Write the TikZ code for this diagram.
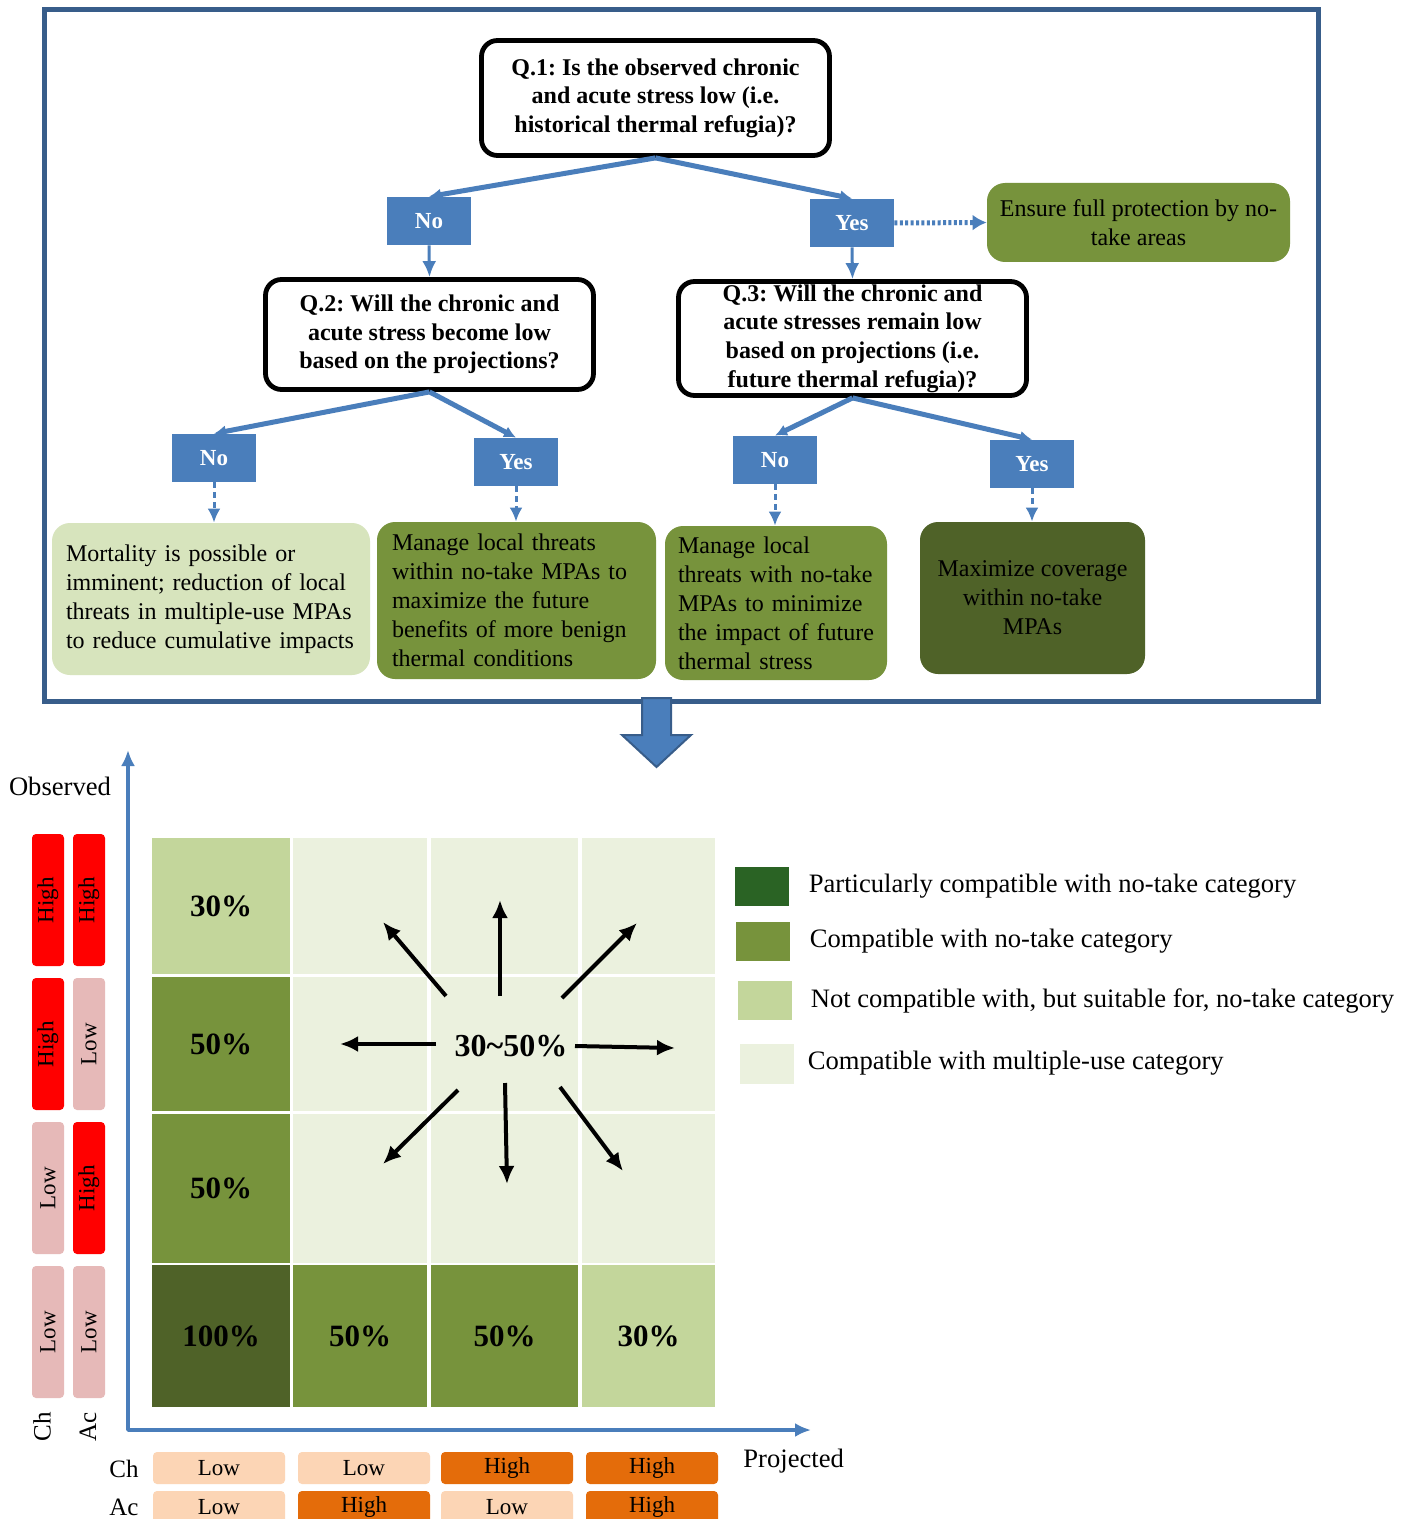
\documentclass[tikz,border=0pt]{standalone}
\usepackage{fontspec}
\setmainfont{Liberation Serif}
\frenchspacing
\usetikzlibrary{arrows.meta,positioning}
\definecolor{ansblue}{HTML}{4A7EBB}
\definecolor{framecol}{HTML}{385D8A}
\definecolor{midgreen}{HTML}{77933C}
\definecolor{darkolive}{HTML}{4F6228}
\definecolor{palegreen}{HTML}{D7E4BD}
\definecolor{lightgreen}{HTML}{C3D69B}
\definecolor{mistgreen}{HTML}{EBF1DE}
\definecolor{deepgreen}{HTML}{2A6324}
\definecolor{lowpink}{HTML}{E6B9B8}
\definecolor{lowpeach}{HTML}{FCD5B5}
\definecolor{highorange}{HTML}{E46C0A}
\begin{document}
\begin{tikzpicture}[x=0.5pt,y=-0.5pt,>={Latex[length=6pt,width=6pt]},line join=bevel,
  question/.style={draw=black,line width=2.4pt,rounded corners=8pt,fill=white,align=center,inner sep=0pt,font=\bfseries\fontsize{12}{14.3}\selectfont},
  answer/.style={fill=ansblue,text=white,inner sep=0pt,minimum width=42pt,minimum height=24pt,font=\bfseries\fontsize{11.5}{13}\selectfont},
  action/.style={rounded corners=9pt,inner sep=0pt,font=\fontsize{12}{14.5}\selectfont},
  branch/.style={draw=ansblue,line width=2.5pt,->},
  drop/.style={draw=ansblue,line width=1.5pt,->,>={Latex[length=8pt,width=7pt]}},
  dotline/.style={draw=ansblue,line width=2.5pt,dash pattern=on 1.5pt off 1.2pt,->,>={Latex[length=7pt,width=8pt]}},
  dashline/.style={draw=ansblue,line width=1.5pt,dash pattern=on 3pt off 2pt,->,>={Latex[length=7pt,width=6.5pt]}},
  cell/.style={inner sep=0pt,font=\bfseries\fontsize{15.5}{18}\selectfont},
  level/.style={rounded corners=2pt,inner sep=0pt,minimum width=66pt,minimum height=16pt,font=\fontsize{11.5}{13}\selectfont},
  key/.style={inner sep=0pt,minimum width=27pt,minimum height=19.5pt},
  keytext/.style={inner sep=0pt,font=\fontsize{13.3}{15}\selectfont},
  axislabel/.style={inner sep=0pt,font=\fontsize{13.3}{15}\selectfont},
  spoke/.style={draw=black,line width=2pt,->,>={Latex[length=9pt,width=8pt]}},
  axis/.style={draw=ansblue,line width=2pt,<->,>={Latex[length=8pt,width=7pt]}},
]
\useasboundingbox (0,0) rectangle (1409,1519);
\fill [white] (0,0) rectangle (1409,1519);
%% decision tree
\draw [framecol,line width=2.5pt,line join=miter] (44,10) rectangle (1318,701);
\node (node_q1) at (655.5,98) [question,minimum width=174pt,minimum height=57.5pt] {Q.1: Is the observed chronic\\and acute stress low (i.e.\\historical thermal refugia)?};
  \node (node_no1) at (429,221) [answer] {No};
  \node (node_yes1) at (852,223) [answer] {Yes};
  \node (node_ensure) at (1138.5,222.5) [action,fill=midgreen,minimum width=151.5pt,minimum height=39.5pt,align=center] {Ensure full protection by no-\\take areas};
  \node (node_q2) at (429.5,334.5) [question,minimum width=164pt,minimum height=55pt] {Q.2: Will the chronic and\\acute stress become low\\based on the projections?};
  \node (node_q3) at (852.5,338.5) [question,minimum width=174pt,minimum height=57pt] {Q.3: Will the chronic and\\acute stresses remain low\\based on projections (i.e.\\future thermal refugia)?};
  \node (node_no2) at (214,458) [answer] {No};
  \node (node_yes2) at (516,462) [answer] {Yes};
  \node (node_no3) at (775,460) [answer] {No};
  \node (node_yes3) at (1032,464) [answer] {Yes};
  \node (node_b1) at (211,599) [action,fill=palegreen,text width=145pt,inner xsep=7pt,minimum height=76pt,align=left] {Mortality is possible or\\imminent; reduction of local\\threats in multiple-use MPAs\\to reduce cumulative impacts};
  \node (node_b2) at (516.5,600.5) [action,fill=midgreen,text width=124.5pt,inner xsep=7.5pt,minimum height=78.5pt,align=left] {Manage local threats\\within no-take MPAs to\\maximize the future\\benefits of more benign\\thermal conditions};
  \node (node_b3) at (776,603) [action,fill=midgreen,text width=98pt,inner xsep=6.5pt,minimum height=77pt,align=left] {Manage local\\threats with no-take\\MPAs to minimize\\the impact of future\\thermal stress};
  \node (node_b4) at (1032.5,598) [action,fill=darkolive,minimum width=112.5pt,minimum height=76pt,align=center] {Maximize coverage\\within no-take\\MPAs};
  \draw [branch] (node_q1.south) -- (node_no1.north);
  \draw [branch] (node_q1.south) -- (node_yes1.north);
  \draw [drop] (node_no1.south) -- (node_q2.north);
  \draw [drop] (node_yes1.south) -- (node_q3.north);
  \draw [dotline] (node_yes1.east) -- (node_ensure.west);
  \draw [branch] (node_q2.south) -- (node_no2.north);
  \draw [branch] (node_q2.south) -- (node_yes2.north);
  \draw [branch] (node_q3.south) -- (node_no3.north);
  \draw [branch] (node_q3.south) -- (node_yes3.north);
  \draw [dashline] (node_no2.south) -- (node_no2.south |- node_b1.north);
  \draw [dashline] (node_yes2.south) -- (node_yes2.south |- node_b2.north);
  \draw [dashline] (node_no3.south) -- (node_no3.south |- node_b3.north);
  \draw [dashline] (node_yes3.south) -- (node_yes3.south |- node_b4.north);
\filldraw [fill=ansblue,draw=framecol,line width=1pt,line join=miter] (642,698) -- (671,698) -- (671,735) -- (691,735) -- (656.5,767) -- (622,735) -- (642,735) -- cycle;
%% matrix
\node (node_c11) at (221,906) [cell,fill=lightgreen,minimum width=69pt,minimum height=68pt] {30\%};
  \node (node_c12) at (360,906) [cell,fill=mistgreen,minimum width=67pt,minimum height=68pt] {};
  \node (node_c13) at (504.5,906) [cell,fill=mistgreen,minimum width=73.5pt,minimum height=68pt] {};
  \node (node_c14) at (648.5,906) [cell,fill=mistgreen,minimum width=66.5pt,minimum height=68pt] {};
  \node (node_c21) at (221,1044) [cell,fill=midgreen,minimum width=69pt,minimum height=67pt] {50\%};
  \node (node_c22) at (360,1044) [cell,fill=mistgreen,minimum width=67pt,minimum height=67pt] {};
  \node (node_c23) at (504.5,1044) [cell,fill=mistgreen,minimum width=73.5pt,minimum height=67pt] {};
  \node (node_c24) at (648.5,1044) [cell,fill=mistgreen,minimum width=66.5pt,minimum height=67pt] {};
  \node (node_c31) at (221,1188.5) [cell,fill=midgreen,minimum width=69pt,minimum height=74.5pt] {50\%};
  \node (node_c32) at (360,1188.5) [cell,fill=mistgreen,minimum width=67pt,minimum height=74.5pt] {};
  \node (node_c33) at (504.5,1188.5) [cell,fill=mistgreen,minimum width=73.5pt,minimum height=74.5pt] {};
  \node (node_c34) at (648.5,1188.5) [cell,fill=mistgreen,minimum width=66.5pt,minimum height=74.5pt] {};
  \node (node_c41) at (221,1336) [cell,fill=darkolive,minimum width=69pt,minimum height=71pt] {100\%};
  \node (node_c42) at (360,1336) [cell,fill=midgreen,minimum width=67pt,minimum height=71pt] {50\%};
  \node (node_c43) at (504.5,1336) [cell,fill=midgreen,minimum width=73.5pt,minimum height=71pt] {50\%};
  \node (node_c44) at (648.5,1336) [cell,fill=lightgreen,minimum width=66.5pt,minimum height=71pt] {30\%};
  \node (node_mid) at (511,1046) [cell,font=\bfseries\fontsize{16}{18}\selectfont] {30\textasciitilde 50\%};
\foreach \n/\ax/\ay/\bx/\by in {1/446/996/383/922,2/500/996/500/900,3/562/998/637/923,4/436/1044/340/1044,5/575/1046/675/1048,6/458/1090/383/1164,7/505/1083/507/1184,8/560/1087/623/1171}{
  \coordinate (from_\n) at (\ax,\ay);
  \coordinate (to_\n) at (\bx,\by);
  \draw [spoke] (from_\n) -- (to_\n);
}
%
\coordinate (ax_top) at (128,750);
\coordinate (ax_org) at (128,1430);
\coordinate (ax_end) at (811,1430);
\draw [axis] (ax_top) -- (ax_org) -- (ax_end);
\node (node_obs) at (60,786) [axislabel] {Observed};
\node (node_proj) at (743,1461) [axislabel,anchor=west] {Projected};
%% observed levels
\node (node_ch1) at (48,900) [level,rotate=90,fill=red] {High};
  \node (node_ac1) at (89,900) [level,rotate=90,fill=red] {High};
  \node (node_ch2) at (48,1044) [level,rotate=90,fill=red] {High};
  \node (node_ac2) at (89,1044) [level,rotate=90,fill=lowpink] {Low};
  \node (node_ch3) at (48,1188) [level,rotate=90,fill=lowpink] {Low};
  \node (node_ac3) at (89,1188) [level,rotate=90,fill=red] {High};
  \node (node_ch4) at (48,1332) [level,rotate=90,fill=lowpink] {Low};
  \node (node_ac4) at (89,1332) [level,rotate=90,fill=lowpink] {Low};
  \node (node_chv) at (42,1427) [axislabel,rotate=90,font=\fontsize{12.5}{14}\selectfont] {Ch};
  \node (node_acv) at (88,1427) [axislabel,rotate=90,font=\fontsize{12.5}{14}\selectfont] {Ac};
%% projected levels
\node (node_chh) at (124,1469) [axislabel,font=\fontsize{12.5}{14}\selectfont] {Ch};
  \node (node_ach) at (124,1507) [axislabel,font=\fontsize{12.5}{14}\selectfont] {Ac};
  \node (node_pch1) at (219,1468) [level,fill=lowpeach] {Low};
  \node (node_pch2) at (364,1468) [level,fill=lowpeach] {Low};
  \node (node_pch3) at (507,1468) [level,fill=highorange] {High};
  \node (node_pch4) at (652,1468) [level,fill=highorange] {High};
  \node (node_pac1) at (219,1507) [level,fill=lowpeach] {Low};
  \node (node_pac2) at (364,1507) [level,fill=highorange] {High};
  \node (node_pac3) at (507,1507) [level,fill=lowpeach] {Low};
  \node (node_pac4) at (652,1507) [level,fill=highorange] {High};
%% legend
\node (node_key1) at (762,886.5) [key,fill=deepgreen] {};
  \node (node_key2) at (763,941.5) [key,fill=midgreen] {};
  \node (node_key3) at (765,1000.5) [key,fill=lightgreen] {};
  \node (node_key4) at (767,1063.5) [key,fill=mistgreen,minimum height=20pt] {};
  \node (node_txt1) [keytext,right=9.5pt of node_key1] {Particularly compatible with no-take category};
  \node (node_txt2) [keytext,right=9.5pt of node_key2] {Compatible with no-take category};
  \node (node_txt3) [keytext,right=9pt of node_key3] {Not compatible with, but suitable for, no-take category};
  \node (node_txt4) [keytext,right=6.5pt of node_key4] {Compatible with multiple-use category};
%
\end{tikzpicture}
\end{document}
